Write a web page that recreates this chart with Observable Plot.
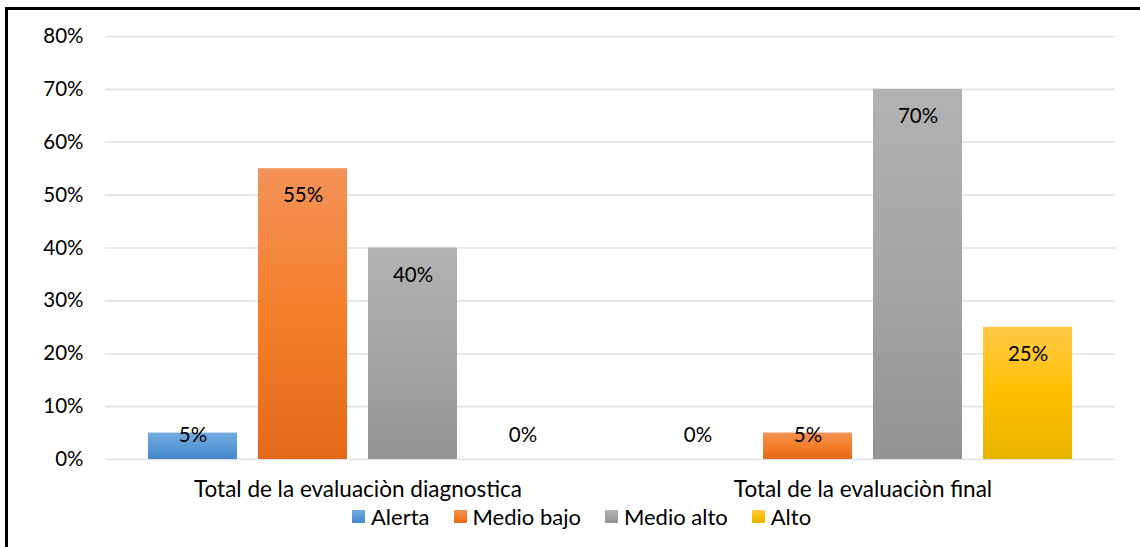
<!DOCTYPE html>
<html>
<head>
<meta charset="utf-8">
<script src="https://cdn.jsdelivr.net/npm/d3@7"></script>
<script src="https://cdn.jsdelivr.net/npm/@observablehq/plot@0.6"></script>
<style>
  html, body { margin: 0; padding: 0; background: #fff; width: 1140px; height: 547px; overflow: hidden; }
  body { position: relative; font-family: Lato, "Open Sans", sans-serif; }
  #frame { position: absolute; left: 5px; top: 7px; width: 1200px; height: 600px; border-top: 3px solid #000; border-left: 3px solid #000; pointer-events: none; }
  #chart { position: absolute; left: 0; top: 0; }
  #legend { position: absolute; left: 352px; top: 503px; display: flex; align-items: center; font-size: 22px; line-height: 27px; color: #000; white-space: nowrap; }
  #legend .item { display: flex; align-items: center; margin-right: 24px; }
  #legend .sw { width: 13px; height: 13px; margin-right: 6px; }
</style>
</head>
<body>
<div id="chart"></div>
<div id="legend"></div>
<div id="frame"></div>
<script>
const groups = ["Total de la evaluaciòn diagnostica", "Total de la evaluaciòn final"];
const series = ["Alerta", "Medio bajo", "Medio alto", "Alto"];
const diagnostica = [5, 55, 40, 0];
const final = [0, 5, 70, 25];
const yTicks = [0, 10, 20, 30, 40, 50, 60, 70, 80];

const gradients = {
  Alerta: ["#75aae0", "#5b9bd5", "#4587cc"],
  "Medio bajo": ["#f29259", "#f47f2a", "#e4691a"],
  "Medio alto": ["#b2b2b2", "#a5a5a5", "#939393"],
  Alto: ["#ffca4a", "#ffc000", "#e6b400"]
};
const gid = s => "grad-" + s.replace(/\s+/g, "-");

const data = [];
series.forEach((s, i) => data.push({group: groups[0], series: s, value: diagnostica[i]}));
series.forEach((s, i) => data.push({group: groups[1], series: s, value: final[i]}));

const numSize = 20.5;
const catSize = 22.5;

const chart = Plot.plot({
  width: 1140,
  height: 506,
  marginLeft: 105,
  marginRight: 25,
  marginTop: 36,
  marginBottom: 47,
  style: {fontFamily: "Lato, 'Open Sans', sans-serif", fontSize: "20px", color: "#000", background: "transparent", overflow: "visible"},
  fx: {domain: groups, padding: 0},
  x: {domain: series, paddingInner: 0.19, paddingOuter: 0.39, axis: null},
  y: {domain: [0, 80]},
  color: {domain: series, range: series.map(s => `url(#${gid(s)})`)},
  marks: [
    Plot.gridY(yTicks, {stroke: "#dfe3e8", strokeOpacity: 1, strokeWidth: 1.6}),
    Plot.axisY({ticks: yTicks, tickFormat: d => d + "%", tickSize: 0, tickPadding: 22, fontSize: numSize, label: null}),
    Plot.axisFx({anchor: "bottom", tickSize: 0, tickPadding: 22, fontSize: catSize, label: null}),
    Plot.barY(data.filter(d => d.value > 0), {fx: "group", x: "series", y: "value", fill: "series"}),
    Plot.text(data.filter(d => d.value >= 10), {fx: "group", x: "series", y: "value", text: d => d.value + "%", dy: 27, fontSize: numSize, fill: "#000"}),
    Plot.text(data.filter(d => d.value < 10), {fx: "group", x: "series", y: d => 0, text: d => d.value + "%", dy: -24.5, fontSize: numSize, fill: "#000"})
  ]
});

// gradient definitions
const ns = "http://www.w3.org/2000/svg";
const defs = document.createElementNS(ns, "defs");
for (const s of series) {
  const lg = document.createElementNS(ns, "linearGradient");
  lg.setAttribute("id", gid(s));
  lg.setAttribute("x1", "0"); lg.setAttribute("y1", "0");
  lg.setAttribute("x2", "0"); lg.setAttribute("y2", "1");
  gradients[s].forEach((c, i) => {
    const st = document.createElementNS(ns, "stop");
    st.setAttribute("offset", String(i / 2));
    st.setAttribute("stop-color", c);
    lg.appendChild(st);
  });
  defs.appendChild(lg);
}
chart.insertBefore(defs, chart.firstChild);
document.getElementById("chart").appendChild(chart);

// legend
const legend = document.getElementById("legend");
series.forEach(s => {
  const item = document.createElement("div");
  item.className = "item";
  const sw = document.createElement("div");
  sw.className = "sw";
  const g = gradients[s];
  sw.style.background = `linear-gradient(${g[0]}, ${g[1]}, ${g[2]})`;
  const t = document.createElement("span");
  t.textContent = s;
  item.appendChild(sw);
  item.appendChild(t);
  legend.appendChild(item);
});
</script>
</body>
</html>
